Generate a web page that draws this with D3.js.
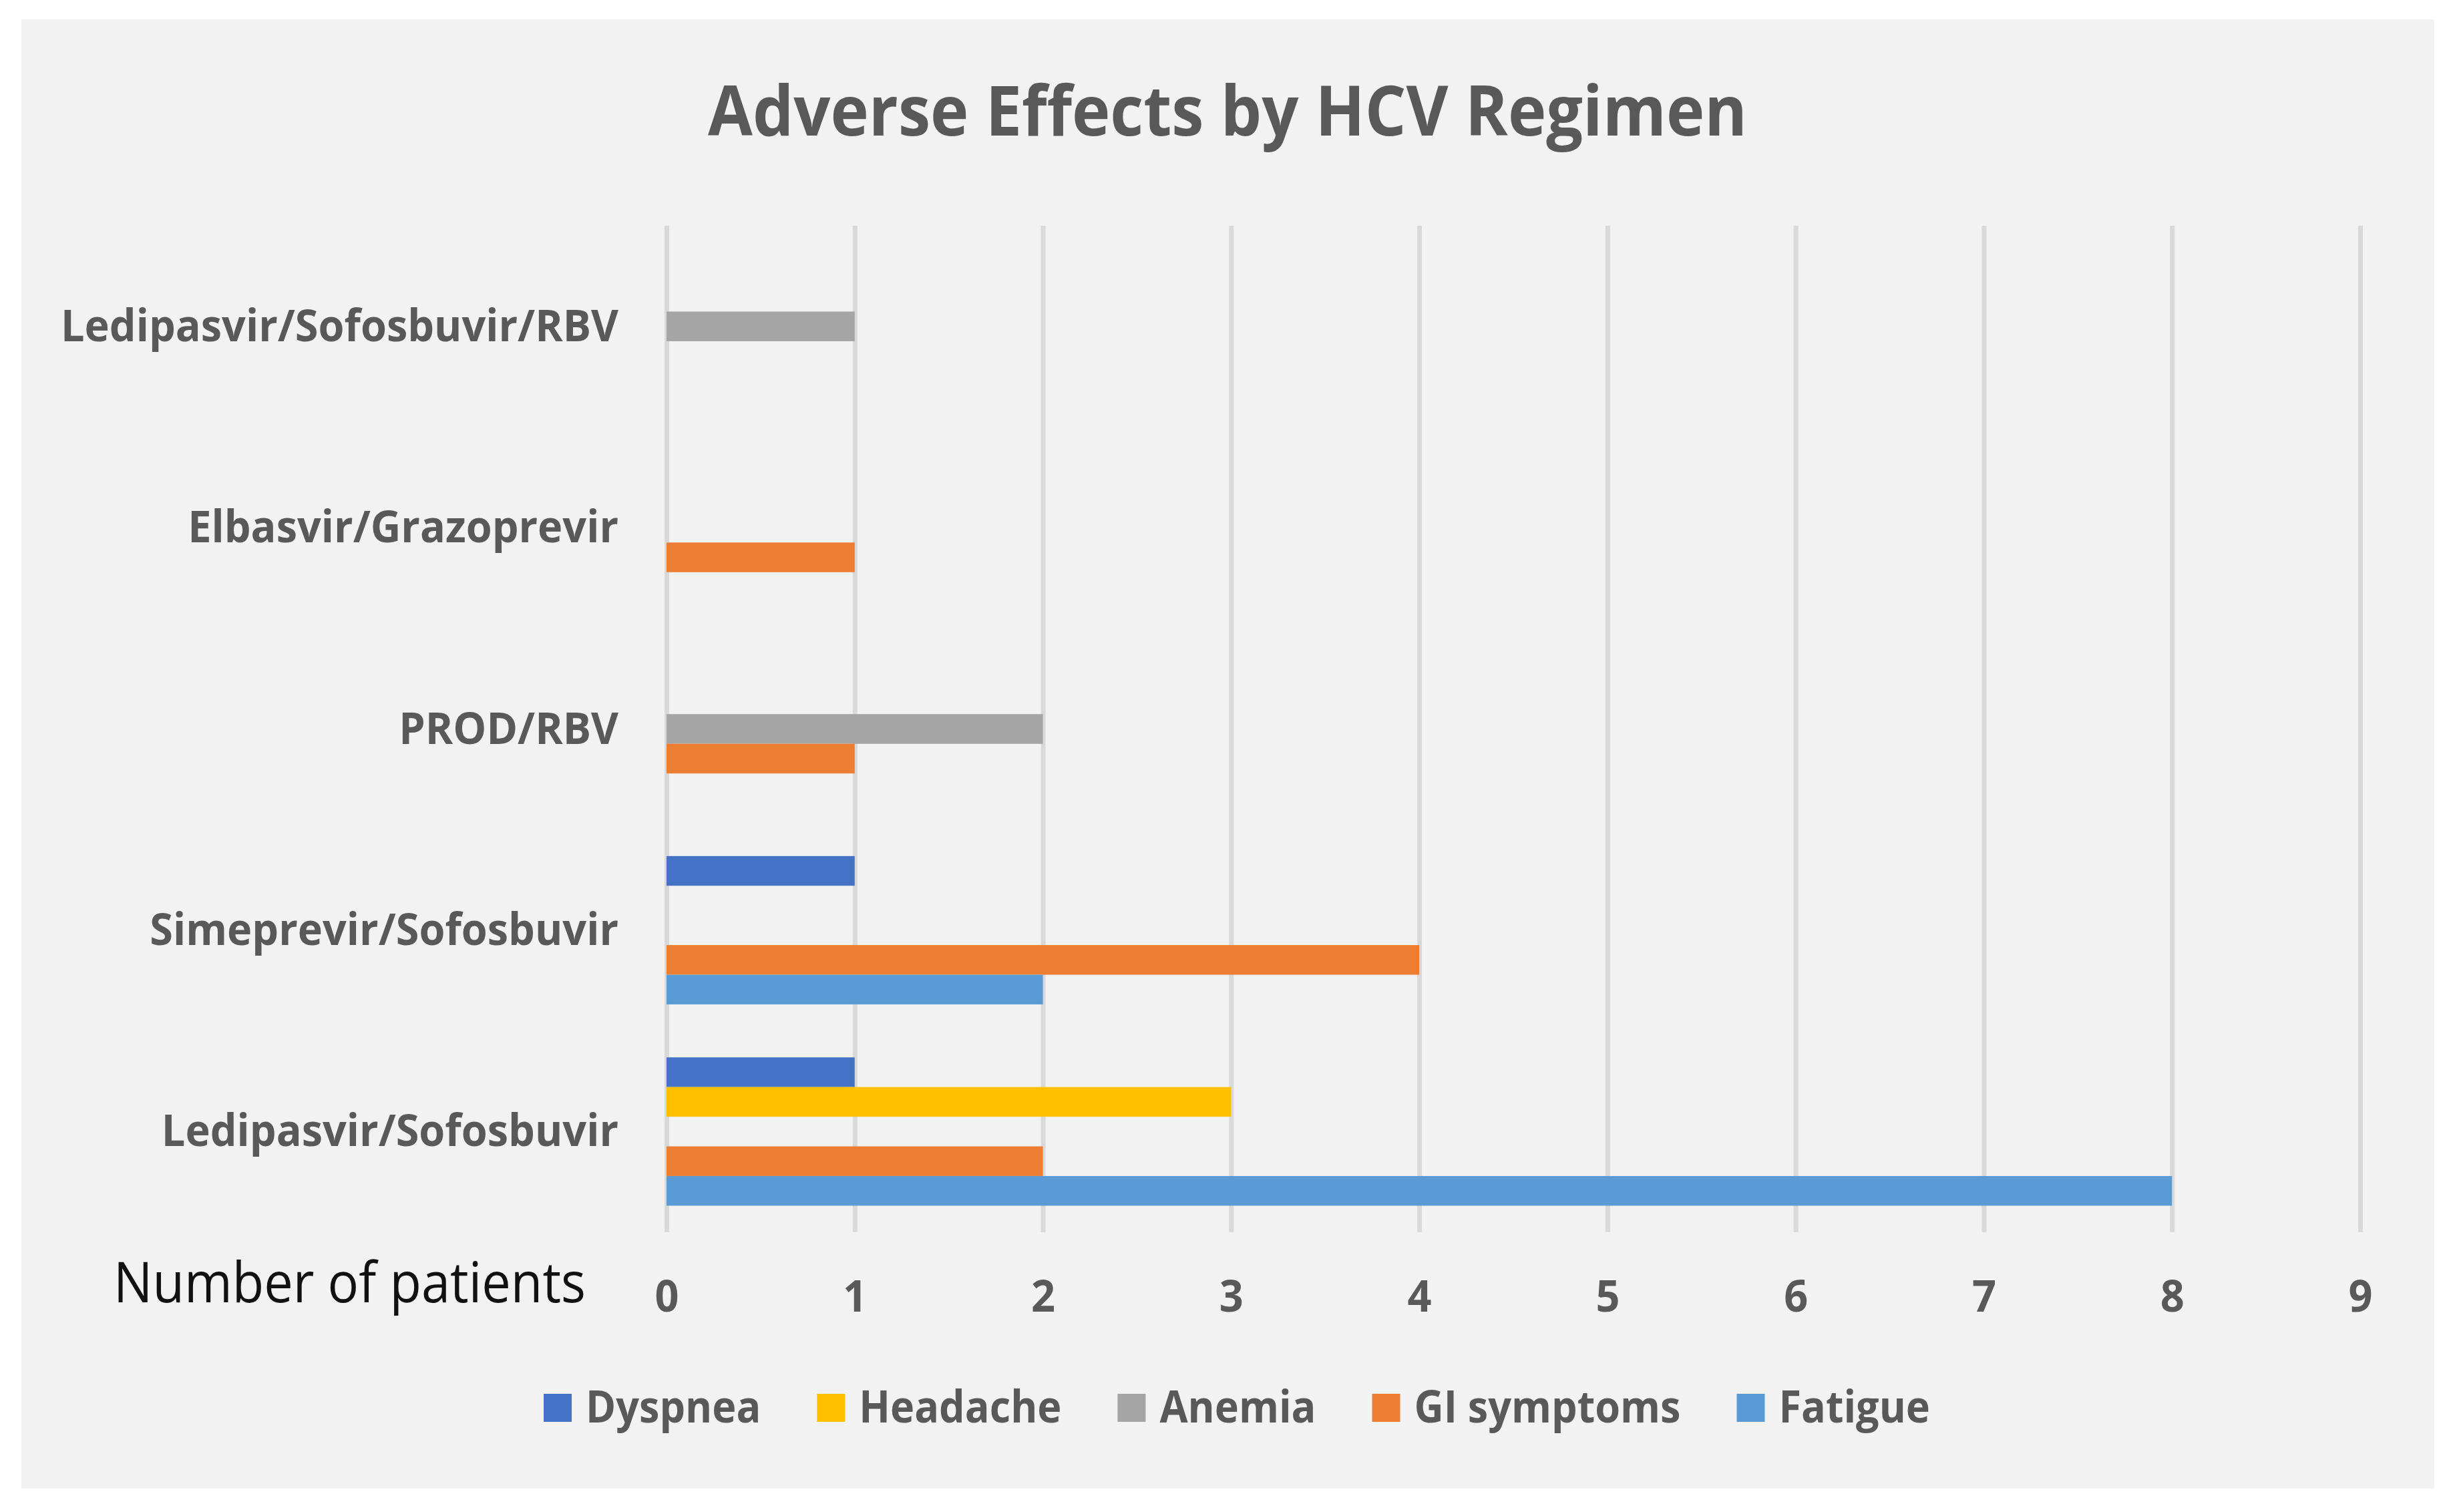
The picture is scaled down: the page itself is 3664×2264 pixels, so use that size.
<!DOCTYPE html>
<html>
<head>
<meta charset="utf-8">
<script src="https://cdn.jsdelivr.net/npm/d3@7"></script>
<style>
  html, body { margin: 0; padding: 0; background: #ffffff; }
  svg { display: block; }
  text { font-family: "Open Sans", "Lato", sans-serif; }
</style>
</head>
<body>
<script>
// ---- data ----
const title = "Adverse Effects by HCV Regimen";
const xAxisLabel = "Number of patients";
// categories listed top to bottom as shown
const regimens = [
  "Ledipasvir/Sofosbuvir/RBV",
  "Elbasvir/Grazoprevir",
  "PROD/RBV",
  "Simeprevir/Sofosbuvir",
  "Ledipasvir/Sofosbuvir"
];
const seriesNames = ["Dyspnea", "Headache", "Anemia", "GI symptoms", "Fatigue"];
const seriesColors = ["#4472c4", "#ffc000", "#a5a5a5", "#ed7d31", "#5b9bd5"];
// values per series, in the order of regimens above
const dyspnea    = [0, 0, 0, 1, 1];
const headache   = [0, 0, 0, 0, 3];
const anemia     = [1, 0, 2, 0, 0];
const giSymptoms = [0, 1, 1, 4, 2];
const fatigue    = [0, 0, 0, 2, 8];
const xTicks = [0, 1, 2, 3, 4, 5, 6, 7, 8, 9];

const seriesValues = [dyspnea, headache, anemia, giSymptoms, fatigue];

// ---- layout ----
const W = 3664, H = 2264;
const plot = { left: 998, right: 3534, top: 338, bottom: 1845 };
const textGrey = "#595959";

const svg = d3.select("body").append("svg")
  .attr("width", W).attr("height", H);

svg.append("rect")
  .attr("x", 32).attr("y", 29)
  .attr("width", 3645 - 32).attr("height", 2229 - 29)
  .attr("fill", "#f2f2f2");

const x = d3.scaleLinear().domain([0, 9]).range([plot.left, plot.right]);
const p = 0.263;
const y = d3.scaleBand().domain(regimens)
  .range([plot.top, plot.bottom]).paddingInner(p).paddingOuter(p / 2);
const ySub = d3.scaleBand().domain(seriesNames).range([0, y.bandwidth()]);

// gridlines
const grid = svg.append("g")
  .attr("transform", `translate(0,${plot.bottom})`)
  .call(d3.axisBottom(x).tickValues(xTicks).tickSize(-(plot.bottom - plot.top)).tickFormat(""));
grid.select(".domain").remove();
grid.selectAll("line").attr("stroke", "#d9d9d9").attr("stroke-width", 7);

// bars
const rows = [];
regimens.forEach((r, i) => {
  seriesNames.forEach((s, j) => {
    if (seriesValues[j][i] > 0) rows.push({ regimen: r, series: s, value: seriesValues[j][i], color: seriesColors[j] });
  });
});
svg.append("g").selectAll("rect").data(rows).join("rect")
  .attr("x", x(0))
  .attr("y", d => y(d.regimen) + ySub(d.series))
  .attr("width", d => x(d.value) - x(0))
  .attr("height", ySub.bandwidth())
  .attr("fill", d => d.color);

// helper to compress text horizontally like the narrow source font
function squeeze(sel, factor) {
  sel.each(function () {
    const w = this.getComputedTextLength();
    d3.select(this).attr("textLength", w * factor).attr("lengthAdjust", "spacingAndGlyphs");
  });
}

// measure factor for bold labels
const probe = svg.append("text").attr("font-size", 67).attr("font-weight", 700)
  .text("Ledipasvir/Sofosbuvir/RBV");
const labelFactor = 835 / probe.node().getComputedTextLength();
probe.remove();

// y axis labels
const yAxis = svg.append("g")
  .attr("transform", `translate(926,0)`)
  .call(d3.axisLeft(y).tickSize(0).tickPadding(0));
yAxis.select(".domain").remove();
yAxis.selectAll("text")
  .attr("font-family", "'Open Sans', sans-serif")
  .attr("font-size", 67).attr("font-weight", 700)
  .attr("fill", textGrey)
  .attr("dy", null).attr("y", 22).attr("x", 0)
  .attr("text-anchor", "end");
squeeze(yAxis.selectAll("text"), labelFactor);

// x axis tick labels
const xAxis = svg.append("g")
  .attr("transform", `translate(0,1964)`)
  .call(d3.axisBottom(x).tickValues(xTicks).tickSize(0).tickPadding(0).tickFormat(d3.format("d")));
xAxis.select(".domain").remove();
xAxis.selectAll("text")
  .attr("font-family", "'Open Sans', sans-serif")
  .attr("font-size", 67).attr("font-weight", 700)
  .attr("fill", textGrey)
  .attr("dy", null).attr("y", 0);
squeeze(xAxis.selectAll("text"), labelFactor);

// axis title
const xt = svg.append("text")
  .attr("x", 170).attr("y", 1950)
  .attr("font-size", 84).attr("font-weight", 400)
  .attr("fill", "#111111")
  .text(xAxisLabel);
xt.attr("textLength", 707).attr("lengthAdjust", "spacingAndGlyphs");

// chart title
const tt = svg.append("text")
  .attr("x", 1838).attr("y", 203)
  .attr("text-anchor", "middle")
  .attr("font-size", 104).attr("font-weight", 700)
  .attr("fill", textGrey)
  .text(title);
tt.attr("textLength", 1556).attr("lengthAdjust", "spacingAndGlyphs");

// legend
const legend = svg.append("g");
const items = legend.selectAll("g").data(seriesNames).join("g");
items.append("rect")
  .attr("width", 42).attr("height", 42)
  .attr("y", 2087)
  .attr("fill", (d, i) => seriesColors[i]);
items.append("text")
  .attr("y", 2130)
  .attr("font-size", 66).attr("font-weight", 700)
  .attr("fill", textGrey)
  .text(d => d);
squeeze(items.selectAll("text"), labelFactor * 0.985);
const gap = 84;
let cx = 0;
const positions = [];
items.each(function () {
  const t = d3.select(this).select("text");
  const w = +t.attr("textLength");
  positions.push(cx);
  cx += 63 + w + gap;
});
const totalW = cx - gap;
const start = 1852 - totalW / 2;
items.each(function (d, i) {
  d3.select(this).select("rect").attr("x", start + positions[i]);
  d3.select(this).select("text").attr("x", start + positions[i] + 63);
});
</script>
</body>
</html>
